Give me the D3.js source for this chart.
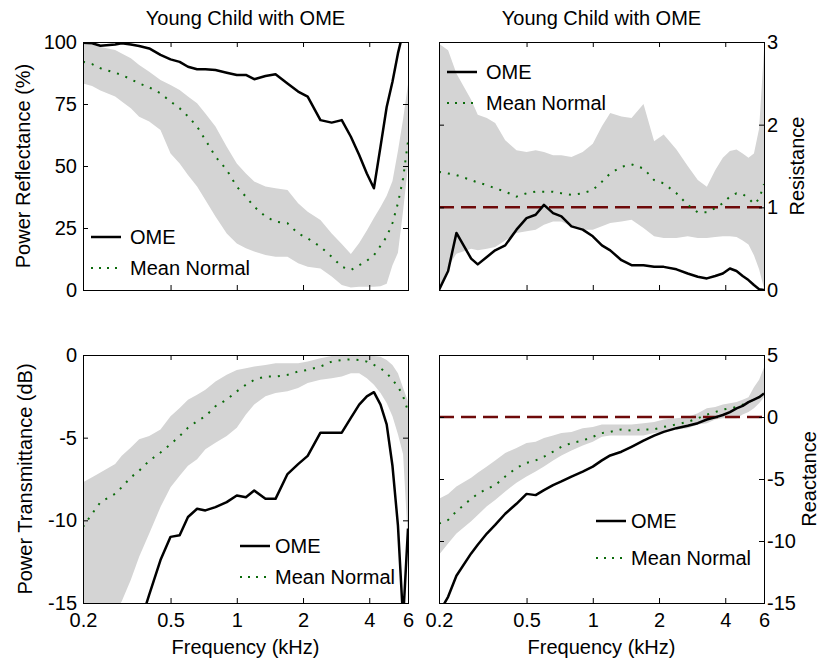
<!DOCTYPE html>
<html>
<head>
<meta charset="utf-8">
<script src="https://cdn.jsdelivr.net/npm/d3@7/dist/d3.min.js"></script>
<style>
  body { margin: 0; background: #fff; }
  svg text { font-family: "Liberation Sans", Arial, sans-serif; font-size: 20px; fill: #000; }
</style>
</head>
<body>
<svg id="chart" width="820" height="661"></svg>
<script>
// frequency grid (kHz) shared by every series
var freqKHz = [0.2, 0.22, 0.24, 0.28, 0.3, 0.33, 0.36, 0.4, 0.45, 0.5, 0.55, 0.6, 0.66, 0.72, 0.8, 0.9, 1.0, 1.1, 1.2,
  1.35, 1.5, 1.7, 1.9, 2.1, 2.4, 2.7, 3.0, 3.3, 3.6, 3.9, 4.2, 4.5, 4.8, 5.1, 5.4, 5.7, 6.0];
var xTicks = [0.2, 0.5, 1, 2, 4, 6];

// power reflectance (%)
var reflOME = [99.7, 99.5, 98.5, 99, 99.5, 99, 98.4, 97.4, 94.8, 93, 92, 90, 89, 89, 88.7, 87.6, 86.7, 86.7, 85,
  86.3, 87, 83.3, 80, 78, 68.5, 67.5, 68.5, 61.8, 54.4, 47, 41, 57.8, 73.8, 84, 95.4, 104, 110];
var reflMean = [92, 91.1, 89.4, 87.6, 86.7, 85, 83.3, 81.7, 79.3, 76, 73.3, 70, 65.9, 60.5, 53.8, 48.4, 41.7, 37.6, 33.6,
  29.6, 27.6, 26.9, 22.8, 20.8, 17.5, 13.4, 9.4, 8.1, 10, 11.8, 14, 17.8, 21.5, 27, 35, 45, 60];
var reflHigh = [99.5, 99, 98, 96.8, 95.4, 93.4, 90.7, 88, 84.7, 82.7, 80.6, 78, 75.3, 71.2, 65.9, 57.8, 51, 47, 43.7,
  41.7, 41, 40.3, 35, 31.6, 28.2, 22.8, 18.5, 14.5, 19, 24, 29, 33.5, 38, 44, 56, 69, 83];
var reflLow = [83.3, 82.3, 80.4, 78, 76, 73.3, 69.9, 67.9, 64.5, 55, 51, 46.4, 41.7, 36.3, 29.6, 22.8, 18.8, 16.8, 15.5,
  14.1, 13.4, 13.4, 10.8, 9.4, 8.7, 5.4, 2, 1, 1.3, 1.3, 1.3, 1.5, 2.5, 10, 15, 32, 50];
var reflTicks = [0, 25, 50, 75, 100];

// resistance
var resOME = [0, 0.23, 0.69, 0.38, 0.31, 0.40, 0.48, 0.54, 0.73, 0.87, 0.91, 1.03, 0.93, 0.89, 0.77, 0.73, 0.65, 0.54, 0.48,
  0.36, 0.30, 0.30, 0.28, 0.28, 0.25, 0.20, 0.16, 0.14, 0.17, 0.20, 0.26, 0.23, 0.17, 0.12, 0.06, 0.01, 0];
var resMean = [1.43, 1.41, 1.39, 1.33, 1.30, 1.27, 1.23, 1.19, 1.13, 1.17, 1.19, 1.19, 1.19, 1.17, 1.15, 1.17, 1.21, 1.31, 1.41,
  1.49, 1.52, 1.47, 1.33, 1.29, 1.17, 1.03, 0.94, 0.94, 0.99, 1.05, 1.13, 1.17, 1.16, 1.11, 1.04, 1.10, 1.28];
var resHigh = [2.98, 2.9, 2.62, 2.3, 2.12, 2.08, 2.02, 1.81, 1.69, 1.67, 1.69, 1.67, 1.63, 1.63, 1.61, 1.67, 1.77, 1.98, 2.14,
  2.10, 2.08, 2.25, 1.8, 1.88, 1.70, 1.5, 1.33, 1.25, 1.45, 1.6, 1.68, 1.7, 1.65, 1.6, 1.65, 1.95, 2.9];
var resLow = [0, 0.28, 0.44, 0.50, 0.48, 0.50, 0.52, 0.60, 0.69, 0.71, 0.73, 0.79, 0.83, 0.83, 0.77, 0.73, 0.73, 0.77, 0.81,
  0.83, 0.85, 0.75, 0.65, 0.63, 0.63, 0.65, 0.63, 0.63, 0.64, 0.65, 0.65, 0.64, 0.6, 0.55, 0.42, 0.25, 0.02];
var resTicks = [0, 1, 2, 3];
var resRef = 1;

// power transmittance (dB)
var transOME = [null, null, null, null, null, null, -16.4, -14.5, -12.4, -11.0, -10.9, -9.8, -9.3, -9.4, -9.2, -8.9, -8.5, -8.6, -8.2,
  -8.7, -8.7, -7.2, -6.6, -6.1, -4.7, -4.7, -4.7, -3.8, -3.0, -2.5, -2.25, -3.0, -4.2, -6.7, -10.3, -16, -10.5];
var transMean = [-10.4, -9.6, -8.9, -8.4, -8.0, -7.4, -7.0, -6.4, -5.9, -5.4, -4.9, -4.4, -4.0, -3.7, -3.1, -2.7, -2.2, -1.8, -1.5,
  -1.3, -1.3, -1.2, -1.0, -0.9, -0.7, -0.4, -0.3, -0.26, -0.3, -0.4, -0.6, -0.8, -1.1, -1.5, -1.9, -2.5, -3.4];
var transHigh = [-7.7, -7.4, -7.1, -6.6, -6.1, -5.6, -5.1, -4.9, -4.5, -3.7, -3.2, -2.7, -2.4, -2.1, -1.6, -1.2, -0.9, -0.8, -0.7,
  -0.6, -0.5, -0.5, -0.5, -0.4, -0.2, -0.06, -0.06, -0.06, -0.06, -0.06, -0.06, -0.1, -0.3, -0.6, -1.1, -2.0, -2.8];
var transLow = [-18, -17.5, -16.8, -15.6, -14.9, -13.6, -12.2, -10.8, -9.2, -8.0, -7.3, -6.7, -6.3, -5.7, -5.3, -4.9, -4.4, -3.6, -3.0,
  -2.5, -2.3, -2.2, -2.0, -1.7, -1.5, -1.4, -1.3, -1.1, -1.1, -1.4, -1.8, -2.3, -2.9, -3.7, -4.8, -6.0, -11.3];
var transTicks = [-15, -10, -5, 0];

// reactance
var reactOME = [-15.8, -14.5, -12.8, -11.0, -10.3, -9.4, -8.7, -7.8, -7.0, -6.2, -6.3, -5.9, -5.5, -5.2, -4.8, -4.4, -4.0, -3.5, -3.1,
  -2.8, -2.4, -1.9, -1.5, -1.2, -0.9, -0.7, -0.5, -0.2, -0.03, 0.16, 0.4, 0.7, 0.9, 1.2, 1.4, 1.6, 1.9];
var reactMean = [-8.6, -8.3, -7.6, -6.6, -6.2, -5.8, -5.5, -4.8, -4.1, -3.7, -3.5, -3.2, -2.8, -2.4, -2.1, -1.9, -1.6, -1.3, -1.2,
  -1.0, -1.1, -1.0, -1.0, -0.8, -0.6, -0.4, -0.1, 0.2, 0.4, 0.6, 0.7, 0.8, 1.0, 1.2, 1.4, 1.6, 1.8];
var reactHigh = [-6.6, -6.2, -5.6, -4.9, -4.5, -4.0, -3.5, -2.9, -2.5, -2.1, -2.0, -1.7, -1.5, -1.3, -1.2, -0.9, -0.8, -0.6, -0.6,
  -0.6, -0.6, -0.5, -0.4, -0.2, -0.1, 0.0, 0.3, 0.7, 0.8, 1.0, 1.1, 1.2, 1.4, 1.6, 2.4, 3.0, 4.0];
var reactLow = [-11.1, -10.2, -9.4, -8.4, -7.9, -7.2, -6.7, -6.0, -5.3, -4.8, -4.4, -4.0, -3.5, -3.1, -2.7, -2.3, -2.0, -1.6, -1.5,
  -1.5, -1.5, -1.5, -1.3, -1.2, -1.0, -0.9, -0.6, -0.5, -0.2, -0.1, -0.1, -0.1, 0.2, 0.4, 0.7, 1.1, 1.6];
var reactTicks = [-15, -10, -5, 0, 5];
var reactRef = 0;

var legendLabels = ["OME", "Mean Normal"];

var width = 325, height = 248;
var colors = { band: "#d4d4d4", mean: "#0b6b0b", ome: "#000", ref: "#6e0a0a" };

var panels = [
  { left: 83, top: 42, domain: [0, 100], ticks: reflTicks, side: "left",
    ome: reflOME, mean: reflMean, low: reflLow, high: reflHigh, ref: null,
    title: "Young Child with OME", ylabel: "Power Reflectance (%)", ylabelX: 30, xLabels: false,
    legend: { x: 91, y: 237, gap: 31, textX: 130 } },
  { left: 439, top: 42, domain: [0, 3], ticks: resTicks, side: "right",
    ome: resOME, mean: resMean, low: resLow, high: resHigh, ref: resRef,
    title: "Young Child with OME", ylabel: "Resistance", ylabelX: 804, xLabels: false,
    legend: { x: 447, y: 72, gap: 31, textX: 486 } },
  { left: 83, top: 355, domain: [-15, 0], ticks: transTicks, side: "left",
    ome: transOME, mean: transMean, low: transLow, high: transHigh, ref: null,
    title: null, ylabel: "Power Transmittance (dB)", ylabelX: 32, xLabels: true,
    legend: { x: 240, y: 546, gap: 31, textX: 275 } },
  { left: 439, top: 355, domain: [-15, 5], ticks: reactTicks, side: "right",
    ome: reactOME, mean: reactMean, low: reactLow, high: reactHigh, ref: reactRef,
    title: null, ylabel: "Reactance", ylabelX: 816, xLabels: true,
    legend: { x: 596, y: 521, gap: 37, textX: 631 } }
];

var svg = d3.select("#chart");

panels.forEach(function(p, i) {
  var x = d3.scaleLog().domain([0.2, 6]).range([0, width]);
  var y = d3.scaleLinear().domain(p.domain).range([height, 0]);

  var g = svg.append("g").attr("transform", "translate(" + p.left + "," + p.top + ")");

  g.append("clipPath").attr("id", "clip" + i)
    .append("rect").attr("width", width).attr("height", height);

  var plot = g.append("g").attr("clip-path", "url(#clip" + i + ")");

  var rows = freqKHz.map(function(f, k) {
    return { f: f, ome: p.ome[k], mean: p.mean[k], lo: p.low[k], hi: p.high[k] };
  });

  // grey normal range
  plot.append("path")
    .datum(rows)
    .attr("fill", colors.band)
    .attr("d", d3.area()
      .x(function(d) { return x(d.f); })
      .y0(function(d) { return y(d.lo); })
      .y1(function(d) { return y(d.hi); }));

  if (p.ref !== null) {
    plot.append("line")
      .attr("x1", 0).attr("x2", width)
      .attr("y1", y(p.ref)).attr("y2", y(p.ref))
      .attr("stroke", colors.ref)
      .attr("stroke-width", 2.5)
      .attr("stroke-dasharray", "15,7");
  }

  plot.append("path")
    .datum(rows)
    .attr("fill", "none")
    .attr("stroke", colors.mean)
    .attr("stroke-width", 2)
    .attr("stroke-dasharray", "2,7")
    .attr("d", d3.line()
      .x(function(d) { return x(d.f); })
      .y(function(d) { return y(d.mean); }));

  plot.append("path")
    .datum(rows)
    .attr("fill", "none")
    .attr("stroke", colors.ome)
    .attr("stroke-width", 2.5)
    .attr("stroke-linejoin", "round")
    .attr("d", d3.line()
      .defined(function(d) { return d.ome !== null; })
      .x(function(d) { return x(d.f); })
      .y(function(d) { return y(d.ome); }));

  // axes, ticks pointing inward
  var fmt = function(d) { return String(d); };
  var none = function() { return ""; };

  g.append("g").attr("transform", "translate(0," + height + ")")
    .call(d3.axisBottom(x).tickValues(xTicks).tickSizeInner(-5).tickSizeOuter(0).tickPadding(10)
      .tickFormat(p.xLabels ? fmt : none));
  g.append("g")
    .call(d3.axisTop(x).tickValues(xTicks).tickSizeInner(-5).tickSizeOuter(0).tickFormat(none));
  g.append("g")
    .call(d3.axisLeft(y).tickValues(p.ticks).tickSizeInner(-5).tickSizeOuter(0).tickPadding(6)
      .tickFormat(p.side === "left" ? fmt : none));
  g.append("g").attr("transform", "translate(" + width + ",0)")
    .call(d3.axisRight(y).tickValues(p.ticks).tickSizeInner(-5).tickSizeOuter(0).tickPadding(3)
      .tickFormat(p.side === "right" ? fmt : none));

  g.selectAll(".domain").remove();
  g.selectAll(".tick text").attr("font-size", null).attr("font-family", null);

  g.append("rect")
    .attr("x", 0.5).attr("y", 0.5)
    .attr("width", width).attr("height", height)
    .attr("fill", "none").attr("stroke", "#000").attr("stroke-width", 1);

  if (p.title) {
    svg.append("text")
      .attr("x", p.left + width / 2).attr("y", 25)
      .attr("text-anchor", "middle")
      .text(p.title);
  }
  if (p.xLabels) {
    svg.append("text")
      .attr("x", p.left + width / 2).attr("y", 654)
      .attr("text-anchor", "middle")
      .text("Frequency (kHz)");
  }
  svg.append("text")
    .attr("transform", "translate(" + p.ylabelX + "," + (p.top + height / 2) + ") rotate(-90)")
    .attr("text-anchor", "middle")
    .text(p.ylabel);

  // legend
  var lg = svg.append("g");
  legendLabels.forEach(function(label, k) {
    var ly = p.legend.y + k * p.legend.gap;
    lg.append("line")
      .attr("x1", p.legend.x).attr("x2", p.legend.x + 30)
      .attr("y1", ly).attr("y2", ly)
      .attr("stroke", k === 0 ? colors.ome : colors.mean)
      .attr("stroke-width", k === 0 ? 2.5 : 2)
      .attr("stroke-dasharray", k === 0 ? null : "2,6");
    lg.append("text")
      .attr("x", p.legend.textX).attr("y", ly)
      .attr("dy", "0.35em")
      .text(label);
  });
});
</script>
</body>
</html>
